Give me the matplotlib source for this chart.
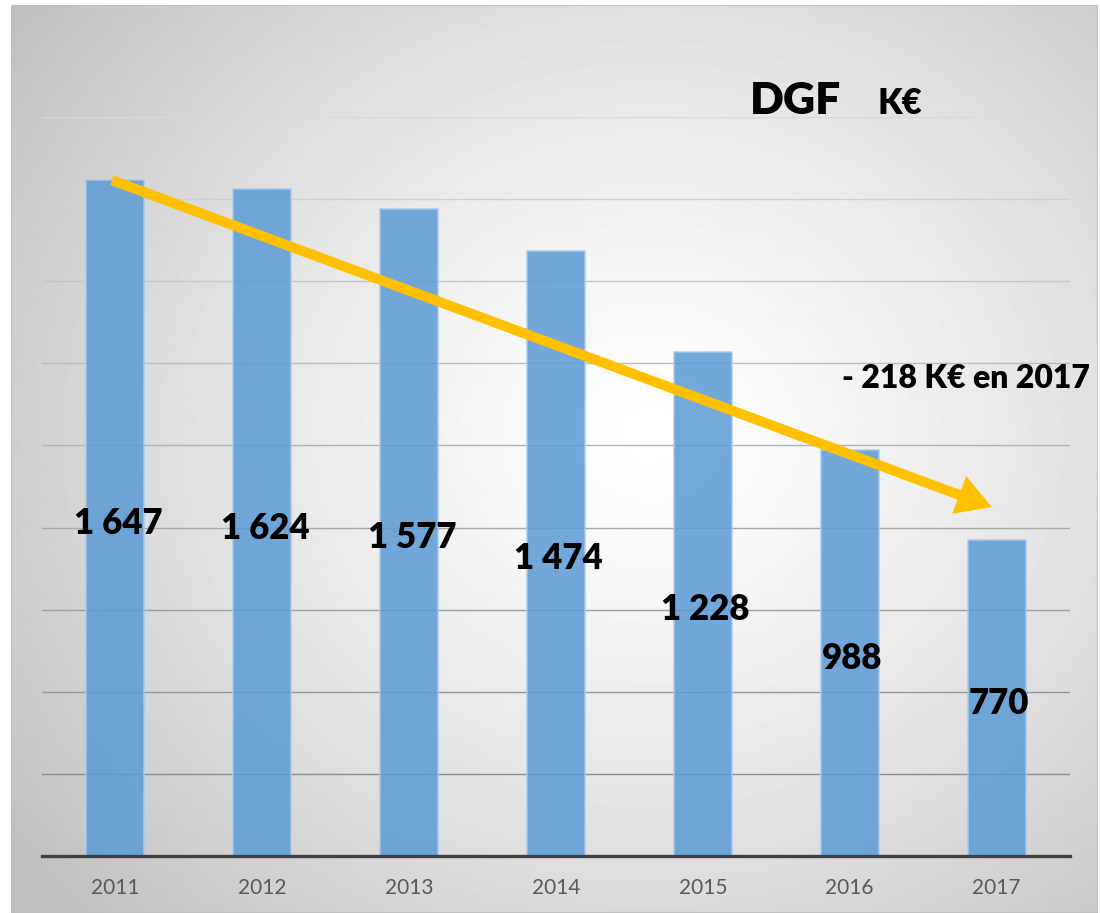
import numpy as np
import matplotlib
matplotlib.use("Agg")
import matplotlib.pyplot as plt
from matplotlib.patches import Rectangle

years = ["2011", "2012", "2013", "2014", "2015", "2016", "2017"]
values = [1647, 1624, 1577, 1474, 1228, 988, 770]
labels = ["1 647", "1 624", "1 577", "1 474", "1 228", "988", "770"]
title_main = "DGF"
title_unit = "K€"
note = "- 218 K€ en 2017"

W, H = 1100, 913
fig = plt.figure(figsize=(W / 100, H / 100), dpi=100)
fig.patch.set_facecolor("white")

# background panel with radial gradient
bg = fig.add_axes([11 / W, 0, (1098 - 11) / W, (913 - 5) / H])
bg.set_axis_off()
yy, xx = np.mgrid[0:908, 0:1087]
cx, cy = 640, 430
r = np.sqrt(((xx - cx) / 1.05) ** 2 + ((yy - cy) / 0.95) ** 2)
t = np.clip(r / 760.0, 0, 1)
val = 1.0 - 0.25 * t ** 1.3
bg.imshow(val, cmap="gray", vmin=0, vmax=1, aspect="auto", interpolation="bilinear")
bg.add_patch(Rectangle((0, 0), 1, 1, transform=bg.transAxes, fill=False,
                       edgecolor="#bdbdbd", lw=1.2))

ax = fig.add_axes([42 / W, 57 / H, 1028 / W, 739 / H])
ax.patch.set_alpha(0)
x = np.arange(len(years))
ax.bar(x, values, width=0.395, color="#5B9BD5", alpha=0.85,
       edgecolor="#A9C9EC", linewidth=1.2, zorder=3)
ax.set_xlim(-0.5, len(years) - 0.5)
ax.set_ylim(0, 1800)
ax.set_yticks(np.arange(200, 1801, 200))
ax.yaxis.grid(True, zorder=0)
glines = ax.get_ygridlines()
n = len(glines)
for i, gl in enumerate(glines):
    f = i / max(n - 1, 1)
    c = 0.55 + 0.30 * f
    gl.set_color((c, c, c))
    gl.set_linewidth(1.0)
ax.set_yticklabels([])
ax.tick_params(axis="y", length=0)
ax.set_xticks(x)
ax.set_xticklabels(years, fontsize=15, color="#595959", family="Lato")
ax.tick_params(axis="x", length=0, pad=16)
for s in ["top", "right", "left"]:
    ax.spines[s].set_visible(False)
ax.spines["bottom"].set_color("#404040")
ax.spines["bottom"].set_linewidth(2.4)
ax.spines["bottom"].set_zorder(4)

for xi, v, lab in zip(x, values, labels):
    ax.annotate(lab, xy=(xi, v / 2), xytext=(2, -4), textcoords="offset points",
                ha="center", va="center", fontsize=25, fontweight="heavy",
                family="Lato", color="black", zorder=5)

# trend arrow
ax.annotate("", xy=(5.967, 850), xytext=(-0.023, 1646),
            arrowprops=dict(arrowstyle="simple,head_length=1.25,head_width=1.45,tail_width=0.36",
                            mutation_scale=20, color="#FFC000", lw=0,
                            shrinkA=0, shrinkB=0), zorder=6)

fig.text(750 / W, 1 - 114 / H, title_main, ha="left", va="baseline", fontsize=32,
         fontweight="heavy", family="Lato")
fig.text(877 / W, 1 - 114 / H, title_unit, ha="left", va="baseline", fontsize=25,
         fontweight="heavy", family="Lato")
fig.text(842 / W, 1 - 388 / H, note, ha="left", va="baseline", fontsize=23,
         fontweight="heavy", family="Lato")

fig.savefig("out.png", dpi=100, facecolor="white")
